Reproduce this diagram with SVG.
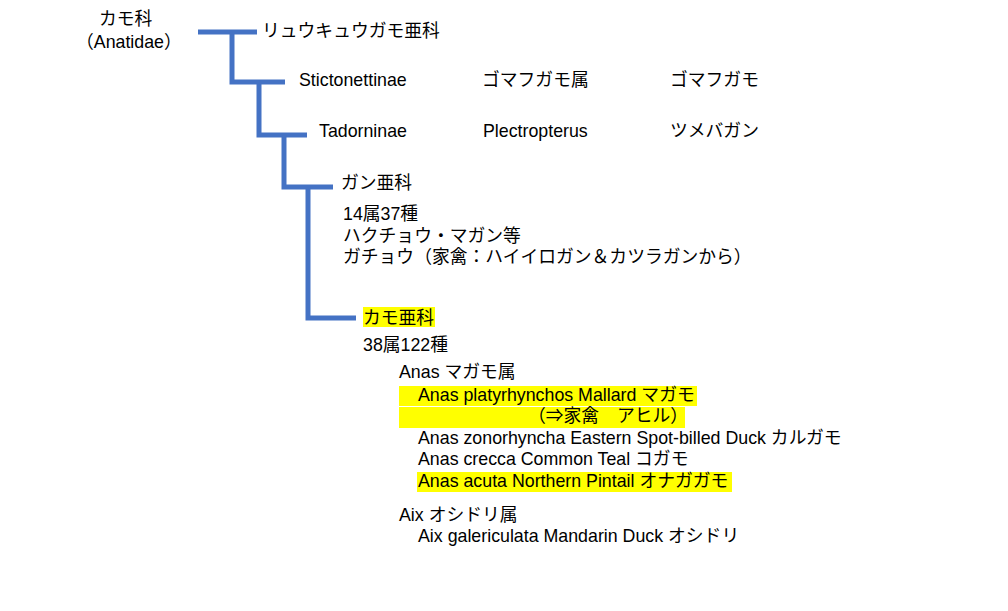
<svg xmlns="http://www.w3.org/2000/svg" width="1008" height="611" viewBox="0 0 1008 611">
<style>
text{font-family:"Liberation Sans","Noto Sans CJK JP",sans-serif;font-size:17.8px;fill:#000}
.hl{fill:#FFFF00}
.ln{stroke:#4472C4;stroke-width:5;fill:none;stroke-linejoin:miter;stroke-linecap:butt}
</style>
<rect width="1008" height="611" fill="#fff"/>
<g id="connectors">
<polyline class="ln" points="198,32 257,32"/>
<polyline class="ln" points="232,32 232,82 285,82"/>
<polyline class="ln" points="259,82 259,135 307,135"/>
<polyline class="ln" points="284,135 284,187 333,187"/>
<polyline class="ln" points="308,187 308,318 356,318"/>
</g>
<g id="anatidae">
<text x="99" y="25">カモ科</text>
<text x="76" y="48">（Anatidae）</text>
</g>
<g id="dendrocygninae"><text x="262" y="37">リュウキュウガモ亜科</text></g>
<g id="stictonettinae">
<text x="299" y="86">Stictonettinae</text>
<text x="482" y="86">ゴマフガモ属</text>
<text x="670" y="86">ゴマフガモ</text>
</g>
<g id="tadorninae">
<text x="319" y="137">Tadorninae</text>
<text x="483" y="137">Plectropterus</text>
<text x="670" y="137">ツメバガン</text>
</g>
<g id="anserinae">
<text x="341" y="189">ガン亜科</text>
<text x="343" y="220">14属37種</text>
<text x="343" y="242">ハクチョウ・マガン等</text>
<text x="343" y="263">ガチョウ（家禽：ハイイロガン＆カツラガンから）</text>
</g>
<g id="anatinae">
<rect class="hl" x="363" y="307" width="72" height="20"/>
<text x="363" y="324">カモ亜科</text>
<text x="363" y="351">38属122種</text>
</g>
<g id="anas">
<text x="399" y="378">Anas マガモ属</text>
<rect class="hl" x="399" y="386" width="298" height="20"/>
<rect class="hl" x="399" y="407" width="286" height="21"/>
<text x="418" y="401">Anas platyrhynchos Mallard マガモ</text>
<text x="528" y="422">（⇒家禽　アヒル）</text>
<text x="418" y="444">Anas zonorhyncha Eastern Spot-billed Duck カルガモ</text>
<text x="418" y="465">Anas crecca Common Teal コガモ</text>
<rect class="hl" x="417" y="472" width="315" height="20"/>
<text x="418" y="487">Anas acuta Northern Pintail オナガガモ</text>
</g>
<g id="aix">
<text x="399" y="521">Aix オシドリ属</text>
<text x="418" y="542">Aix galericulata Mandarin Duck オシドリ</text>
</g>
</svg>
